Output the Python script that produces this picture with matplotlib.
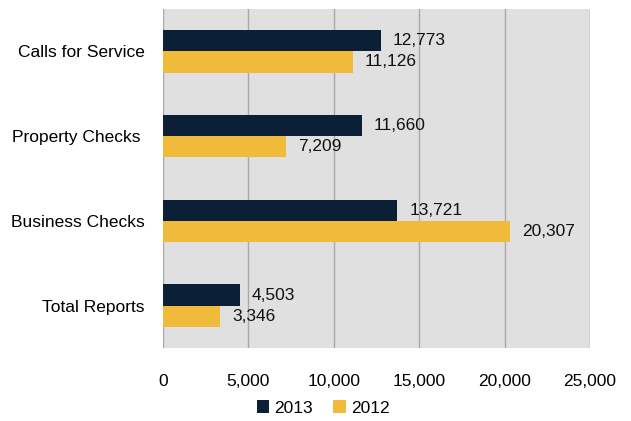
import numpy as np
import matplotlib.pyplot as plt
from matplotlib import font_manager

names = {f.name for f in font_manager.fontManager.ttflist}
if "Liberation Sans Narrow" in names:
    plt.rcParams['font.family'] = ['Liberation Sans Narrow', 'DejaVu Sans']
    fs = 14
else:
    plt.rcParams['font.family'] = ['Liberation Sans', 'DejaVu Sans']
    fs = 12.5

categories = ["Calls for Service", "Property Checks ", "Business Checks", "Total Reports"]
vals_2013 = [12773, 11660, 13721, 4503]
vals_2012 = [11126, 7209, 20307, 3346]
xticks = [0, 5000, 10000, 15000, 20000, 25000]

navy = "#0B1F36"
gold = "#F0BA3A"

fig = plt.figure(figsize=(6.31, 4.21), dpi=100)
ax = fig.add_axes([163 / 631, 1 - 348 / 421, (590 - 163) / 631, (348 - 9) / 421])
ax.set_facecolor("#E0E0E0")

y = np.arange(len(categories))
h = 0.25
b13 = ax.barh(y - h / 2, vals_2013, height=h, color=navy, label="2013")
b12 = ax.barh(y + h / 2, vals_2012, height=h, color=gold, label="2012")

for bars in (b13, b12):
    for rect in bars:
        w = rect.get_width()
        ax.text(w + 700, rect.get_y() + rect.get_height() / 2, f"{w:,.0f}",
                va="center", ha="left", fontsize=fs, color="#111111")

ax.set_xlim(0, 25000)
ax.set_ylim(len(categories) - 0.5, -0.5)
ax.set_yticks(y)
ax.set_yticklabels(categories, fontsize=fs)
ax.set_xticks(xticks)
ax.set_xticklabels([f"{t:,}" for t in xticks], fontsize=fs)
ax.tick_params(axis="both", length=0)
ax.tick_params(axis="x", pad=19)
ax.tick_params(axis="y", pad=13)
ax.xaxis.grid(True, color="#A8A8A8", linewidth=1)
ax.set_axisbelow(True)
for s in ax.spines.values():
    s.set_visible(False)

fig.legend(handles=[b13, b12], labels=["2013", "2012"], loc="center",
           bbox_to_anchor=(323 / 631, 1 - 408 / 421), ncol=2, frameon=False,
           fontsize=fs, handlelength=0.7, handleheight=0.7, handletextpad=0.3,
           columnspacing=1.2)

fig.savefig("out.png", dpi=100)
